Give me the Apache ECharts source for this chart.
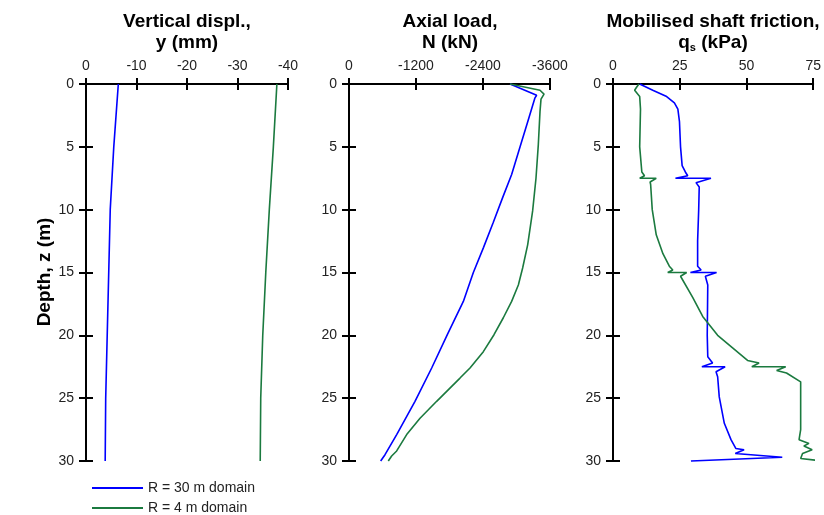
<!DOCTYPE html>
<html>
<head>
<meta charset="utf-8">
<script src="https://cdn.jsdelivr.net/npm/echarts@6/dist/echarts.min.js"></script>
<style>html,body{margin:0;padding:0;background:#fff;}#c{width:824px;height:515px;}</style>
</head>
<body>
<div id="c"></div>
<script>
// ---- Data ----
const seriesNames = ['R = 30 m domain', 'R = 4 m domain'];

const dispDepth = [0, 5, 10, 15, 20, 25, 30];
const disp30 = [-6.4, -5.5, -4.8, -4.5, -4.2, -3.9, -3.8];
const disp4 = [-37.8, -37.1, -36.3, -35.6, -35.0, -34.6, -34.5];

const axialDepth30 = [0, 0.9, 1.1, 3, 5, 7.2, 9, 11, 13, 15, 17.3, 19.95, 22.6, 25.25, 27.9, 29.5, 30];
const axial30 = [-2884, -3361, -3331, -3201, -3064, -2913, -2755, -2585, -2410, -2227, -2048, -1761, -1481, -1182, -854, -645, -567];
const axialDepth4 = [0, 0.5, 0.8, 1.2, 2.2, 4.8, 7.5, 10.1, 12.8, 14.64, 16, 17.3, 18.6, 19.95, 21.3, 22.6, 23.4, 25.25, 26.6, 27.9, 29.2, 29.6, 30];
const axial4 = [-2884, -3421, -3493, -3439, -3421, -3391, -3349, -3289, -3200, -3110, -3033, -2913, -2764, -2597, -2406, -2167, -1988, -1570, -1272, -1033, -854, -764, -704];

const fricDepth30 = [0, 0.5, 1, 1.5, 2, 3, 5, 6.5, 7, 7.3, 7.5, 7.5, 7.85, 8.2, 10, 12.5, 14.5, 14.8, 15, 15, 15.3, 16, 20, 21.7, 22.2, 22.5, 22.5, 22.9, 23.3, 24.9, 27.0, 28.3, 29.0, 29.1, 29.4, 29.7, 30];
const fric30 = [10, 14.9, 20.1, 23, 24.3, 24.9, 25.3, 25.9, 27.1, 28, 23.4, 36.7, 31.1, 32.3, 32.1, 31.7, 31.7, 33, 29, 38.8, 34.6, 35.5, 35.3, 35.5, 37.3, 33.3, 42.0, 38.6, 39.2, 39.8, 41.7, 44.2, 46.0, 49.1, 45.8, 63.4, 29.2];
const fricDepth4 = [0, 0.3, 0.5, 1, 2, 5, 7, 7.3, 7.5, 7.5, 7.8, 8, 10, 12, 13.5, 14.5, 14.8, 15, 15, 15.3, 17, 18.5, 20, 21, 22, 22.2, 22.5, 22.5, 22.8, 23.0, 23.7, 25, 27.5, 28.3, 28.6, 28.8, 29.1, 29.4, 29.8, 30];
const fric4 = [9.7, 8.7, 8.1, 10, 10.3, 10, 10.8, 11.8, 10, 16.2, 13.9, 14.1, 14.7, 16.2, 18.7, 21.1, 22.4, 20.5, 27.6, 25.3, 29.9, 33.6, 39.2, 44.8, 50.4, 54.7, 52.0, 64.7, 61.3, 65.0, 70.3, 70.3, 70.3, 69.7, 73.4, 71.5, 74.6, 71.0, 70.3, 78.6];

const xRanges = [
  { min: -40, max: 0, interval: 10, inverse: true },
  { min: -3600, max: 0, interval: 1200, inverse: true },
  { min: 0, max: 75, interval: 25, inverse: false }
];
const depthRange = { min: 0, max: 30, interval: 5 };

// ---- Layout ----
const FONT = 'Liberation Sans, Arial, sans-serif';
const BLUE = '#0000ff';
const GREEN = '#1b7a3f';
const grids = [
  { left: 86, width: 202, top: 84, height: 377 },
  { left: 349, width: 201, top: 84, height: 377 },
  { left: 613, width: 201, top: 84, height: 377 }
];
const axisLine = { lineStyle: { color: '#000', width: 2 } };
const fmt = v => String(v);

const xAxis = [], yAxis = [], series = [];
grids.forEach((g, i) => {
  const r = xRanges[i];
  xAxis.push({
    type: 'value', gridIndex: i, position: 'top', min: r.min, max: r.max, interval: r.interval, inverse: r.inverse,
    axisLine: axisLine, axisTick: { show: true, inside: false, length: 6, lineStyle: { color: '#000', width: 2 } },
    axisLabel: { color: '#222', fontSize: 14, fontFamily: FONT, margin: 11, formatter: fmt }, splitLine: { show: false }
  });
  xAxis.push({
    type: 'value', gridIndex: i, position: 'top', min: r.min, max: r.max, interval: r.interval, inverse: r.inverse,
    axisLine: { show: false }, axisTick: { show: true, inside: true, length: 6, lineStyle: { color: '#000', width: 2 } },
    axisLabel: { show: false }, splitLine: { show: false }
  });
  yAxis.push({
    type: 'value', gridIndex: i, position: 'left', min: depthRange.min, max: depthRange.max, interval: depthRange.interval, inverse: true,
    axisLine: axisLine, axisTick: { show: true, inside: false, length: 7, lineStyle: { color: '#000', width: 2 } },
    axisLabel: { color: '#222', fontSize: 14, fontFamily: FONT, margin: 12, formatter: fmt }, splitLine: { show: false }
  });
  yAxis.push({
    type: 'value', gridIndex: i, position: 'left', min: depthRange.min, max: depthRange.max, interval: depthRange.interval, inverse: true,
    axisLine: { show: false }, axisTick: { show: true, inside: true, length: 7, lineStyle: { color: '#000', width: 2 } },
    axisLabel: { show: false }, splitLine: { show: false }
  });
});

function pairs(xs, ds) { return xs.map((v, k) => [v, ds[k]]); }
function mk(name, color, i, data) {
  return {
    type: 'line', name: name, xAxisIndex: i * 2, yAxisIndex: i * 2, data: data,
    showSymbol: false, symbol: 'none', clip: false, animation: false,
    lineStyle: { color: color, width: 1.6 }, itemStyle: { color: color }
  };
}
series.push(mk(seriesNames[0], BLUE, 0, pairs(disp30, dispDepth)));
series.push(mk(seriesNames[1], GREEN, 0, pairs(disp4, dispDepth)));
series.push(mk(seriesNames[0], BLUE, 1, pairs(axial30, axialDepth30)));
series.push(mk(seriesNames[1], GREEN, 1, pairs(axial4, axialDepth4)));
series.push(mk(seriesNames[0], BLUE, 2, pairs(fric30, fricDepth30)));
series.push(mk(seriesNames[1], GREEN, 2, pairs(fric4, fricDepth4)));

const titleFont = 'bold 19px ' + FONT;
function titleText(x, y, text) {
  return { type: 'text', x: x, y: y, silent: true,
    style: { text: text, font: titleFont, fill: '#000', align: 'center', verticalAlign: 'middle' } };
}

const chart = echarts.init(document.getElementById('c'), null, { renderer: 'canvas' });
chart.setOption({
  animation: false,
  backgroundColor: '#fff',
  grid: grids,
  xAxis: xAxis,
  yAxis: yAxis,
  series: series,
  legend: {
    data: seriesNames, orient: 'vertical', left: 92, top: 481, height: 40, padding: 0,
    itemWidth: 51, itemHeight: 2, itemGap: 6,
    icon: 'rect', textStyle: { color: '#222', fontSize: 14, fontFamily: FONT }, selectedMode: false
  },
  graphic: [
    titleText(187, 22, 'Vertical displ.,'),
    titleText(187, 43, 'y (mm)'),
    titleText(450, 22, 'Axial load,'),
    titleText(450, 43, 'N (kN)'),
    titleText(713, 22, 'Mobilised shaft friction,'),
    { type: 'text', x: 713, y: 43, silent: true,
      style: { text: '{b|q}{s|s}{b| (kPa)}', align: 'center', verticalAlign: 'middle',
        rich: { b: { fontSize: 19, fontWeight: 'bold', fontFamily: FONT, color: '#000' },
                s: { fontSize: 11, fontWeight: 'bold', fontFamily: FONT, color: '#000', padding: [9, 0, 0, 0] } } } },
    { type: 'text', x: 45, y: 272, rotation: Math.PI / 2, silent: true,
      style: { text: 'Depth, z (m)', font: titleFont, fill: '#000', align: 'center', verticalAlign: 'middle' } }
  ]
});
</script>
</body>
</html>
